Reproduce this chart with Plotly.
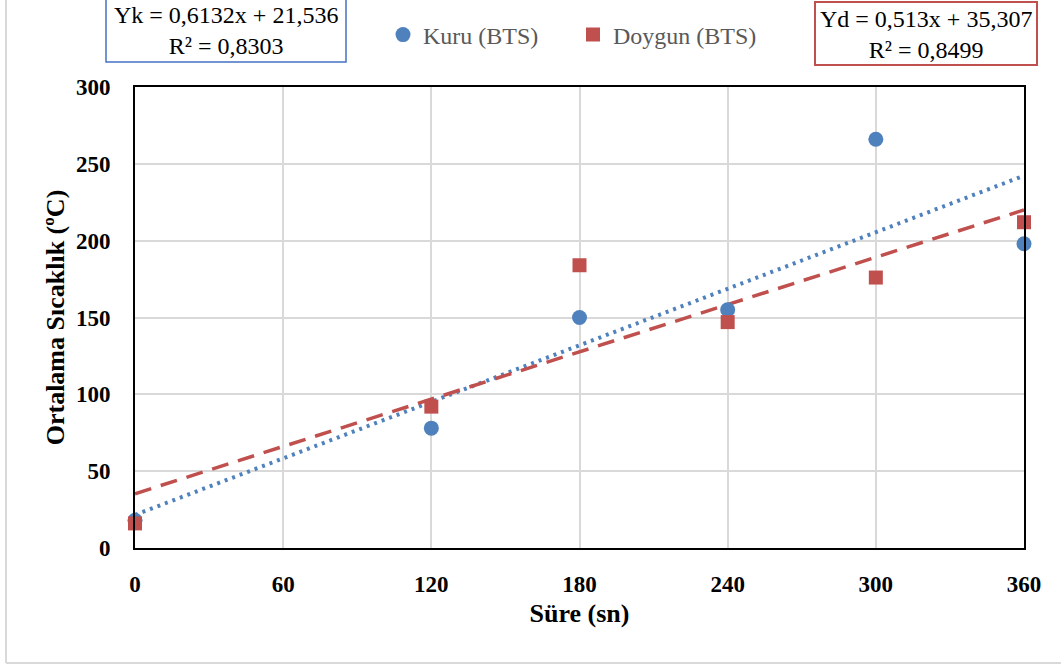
import numpy as np
import plotly.graph_objects as go

# Measurement times (s)
sure = [0, 120, 180, 240, 300, 360]
# Mean temperature, dry samples (°C)
kuru = [18, 78, 150, 155, 266, 198]
# Mean temperature, saturated samples (°C)
doygun = [16, 92, 184, 147, 176, 212]

# Linear trendline coefficients
kuru_egim, kuru_kesisim, kuru_r2 = 0.6132, 21.536, 0.8303
doygun_egim, doygun_kesisim, doygun_r2 = 0.513, 35.307, 0.8499

x_ticks = [0, 60, 120, 180, 240, 300, 360]
y_ticks = [0, 50, 100, 150, 200, 250, 300]

BLUE = "#4F81BD"
RED = "#C0504D"
FONT = "Liberation Serif"

trend_x = np.array([0, 360])

fig = go.Figure()

fig.add_trace(go.Scatter(
    x=trend_x, y=kuru_egim * trend_x + kuru_kesisim, mode="lines",
    line=dict(color=BLUE, width=4, dash="3px,5px"),
    showlegend=False, hoverinfo="skip"))
fig.add_trace(go.Scatter(
    x=trend_x, y=doygun_egim * trend_x + doygun_kesisim, mode="lines",
    line=dict(color=RED, width=3.5, dash="17px,10px"),
    showlegend=False, hoverinfo="skip"))

fig.add_trace(go.Scatter(
    x=sure, y=kuru, mode="markers", name="Kuru (BTS)", cliponaxis=False,
    marker=dict(symbol="circle", size=15, color=BLUE)))
fig.add_trace(go.Scatter(
    x=sure, y=doygun, mode="markers", name="Doygun (BTS)", cliponaxis=False,
    marker=dict(symbol="square", size=14, color=RED)))

L, R, T, B = 135, 37, 87, 120
W, H = 1061, 668
pw, ph = W - L - R, H - T - B


def px_x(p):
    return (p - L) / pw


def px_y(p):
    return (H - B - p) / ph


axis_common = dict(
    showline=True, linecolor="black", linewidth=2, mirror=True,
    showgrid=True, gridcolor="#D9D9D9", gridwidth=2,
    zeroline=False, ticks="",
    tickfont=dict(family=FONT, size=23, color="black", weight="bold"),
)

fig.update_layout(
    width=W, height=H,
    margin=dict(l=L, r=R, t=T, b=B, autoexpand=False),
    paper_bgcolor="white", plot_bgcolor="white",
    font=dict(family=FONT),
    xaxis=dict(
        range=[0, 360], tickvals=x_ticks, ticklabelstandoff=14,
        title=dict(text="Süre (sn)", standoff=8,
                   font=dict(family=FONT, size=26, color="black", weight="bold")),
        **axis_common),
    yaxis=dict(
        range=[0, 300], tickvals=y_ticks, ticklabelstandoff=18,
        title=dict(text="Ortalama Sıcaklık (ºC)", standoff=4,
                   font=dict(family=FONT, size=26, color="black", weight="bold")),
        **axis_common),
    legend=dict(
        orientation="h", x=px_x(383), xanchor="left",
        y=px_y(35), yanchor="middle",
        font=dict(family=FONT, size=24, color="#595959"),
        entrywidth=145, bgcolor="rgba(0,0,0,0)", itemclick=False),
    showlegend=True,
)

# Outer chart frame
fig.add_shape(type="line", xref="paper", yref="paper",
              x0=px_x(6), x1=px_x(6), y0=px_y(-2), y1=px_y(663),
              line=dict(color="#D9D9D9", width=2))
fig.add_shape(type="line", xref="paper", yref="paper",
              x0=px_x(6), x1=px_x(1063), y0=px_y(663), y1=px_y(663),
              line=dict(color="#D9D9D9", width=2))

# Equation boxes
fig.add_shape(type="rect", xref="paper", yref="paper",
              x0=px_x(106), x1=px_x(346), y0=px_y(-1), y1=px_y(62),
              line=dict(color="#4472C4", width=1.5), fillcolor="white")
fig.add_shape(type="rect", xref="paper", yref="paper",
              x0=px_x(815), x1=px_x(1037), y0=px_y(2), y1=px_y(65),
              line=dict(color=RED, width=2), fillcolor="white")

fig.add_annotation(
    xref="paper", yref="paper", x=px_x(226), y=px_y(31),
    xanchor="center", yanchor="middle", showarrow=False, align="center",
    text=f"Yk = {kuru_egim}x + {kuru_kesisim}".replace(".", ",")
         + "<br>" + f"R² = {kuru_r2}".replace(".", ","),
    font=dict(family=FONT, size=24, color="black"))
fig.add_annotation(
    xref="paper", yref="paper", x=px_x(926), y=px_y(34),
    xanchor="center", yanchor="middle", showarrow=False, align="center",
    text=f"Yd = {doygun_egim}x + {doygun_kesisim}".replace(".", ",")
         + "<br>" + f"R² = {doygun_r2}".replace(".", ","),
    font=dict(family=FONT, size=24, color="black"))

fig.write_html("out.html")
